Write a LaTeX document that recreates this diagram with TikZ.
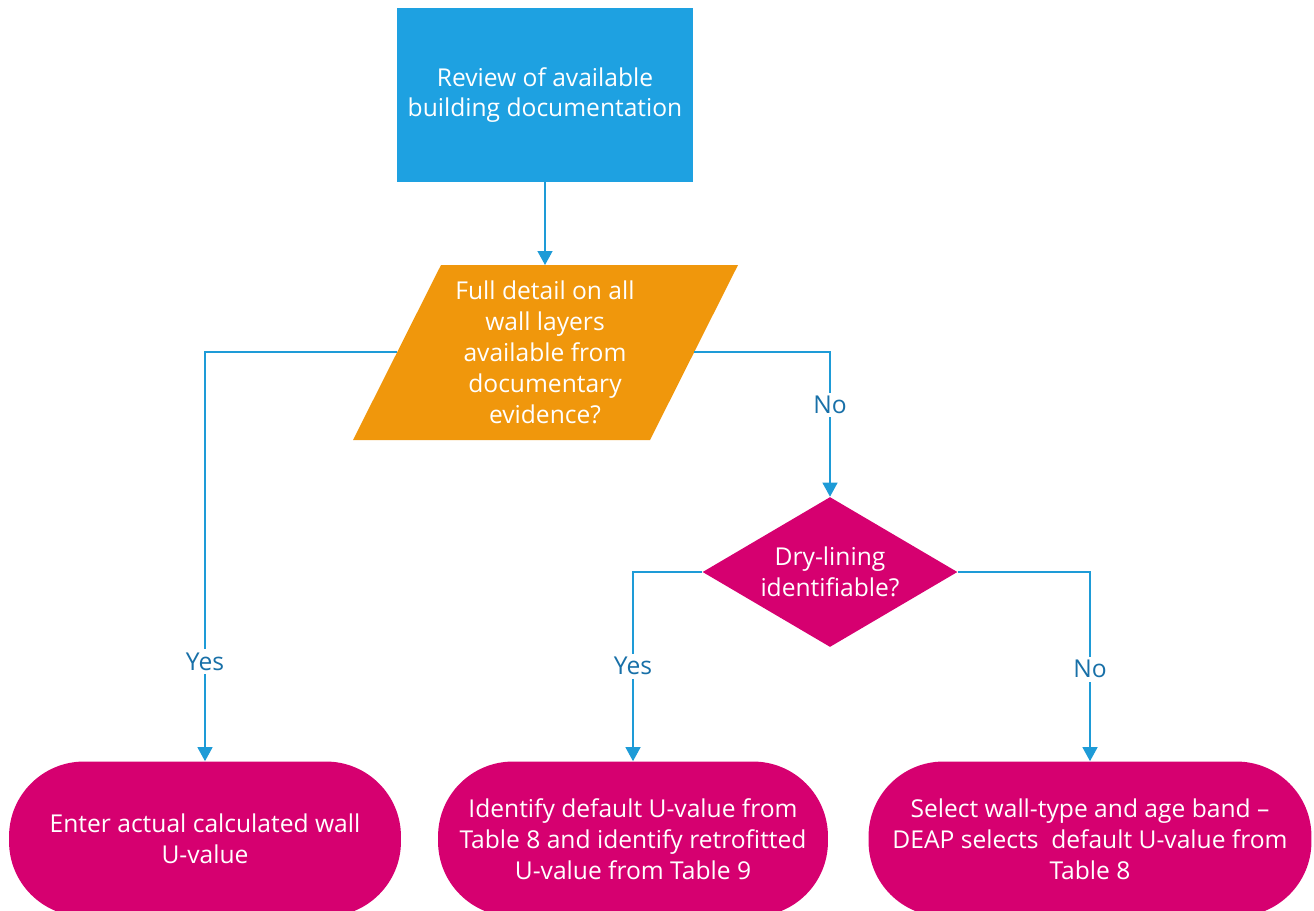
\documentclass[tikz,border=0pt]{standalone}
\usepackage{fontspec}
\setmainfont{Open Sans}
\usetikzlibrary{arrows.meta,shapes.geometric}

\definecolor{boxblue}{RGB}{30,161,225}
\definecolor{askorange}{RGB}{240,151,12}
\definecolor{endpink}{RGB}{214,0,112}
\definecolor{lineblue}{RGB}{30,155,215}
\definecolor{lblblue}{RGB}{24,112,168}

\tikzset{
  boxtext/.style={text=white, align=center, font=\fontsize{14}{17.6}\selectfont},
  startbox/.style={boxtext, fill=boxblue, minimum width=5.92cm, minimum height=3.48cm, inner sep=0pt},
  askbox/.style={boxtext, diamond, fill=endpink, aspect=1.7, minimum width=5.1cm, minimum height=3cm, inner sep=0pt},
  endbox/.style={boxtext, fill=endpink, rounded corners=1.5cm, minimum height=3.1cm, inner sep=0pt},
  flow/.style={draw=lineblue, line width=0.75pt, -{Triangle[width=0.3cm,length=0.28cm]}},
  flowlbl/.style={fill=white, text=lblblue, inner sep=2pt, font=\fontsize{14}{16}\selectfont},
}

\begin{document}
\begin{tikzpicture}[x=0.02cm,y=-0.02cm]
  \useasboundingbox (0,0) rectangle (1314,910);

  % Drawing start box
  \node[startbox] (review) at (545,95) {Review of available\\building documentation};

  % Drawing parallelogram
  \fill[askorange] (441,265) -- (738,265) -- (650,440) -- (353,440) -- cycle;
  \node[boxtext, inner sep=0pt] (detail) at (545,352) {Full detail on all\\wall layers\\available from\\documentary\\evidence?};
  \coordinate (detailW) at (397,352);
  \coordinate (detailE) at (694,352);
  \coordinate (detailN) at (545,265);

  % Drawing decision
  \node[askbox] (dry) at (830,572) {Dry-lining\\identifiable?};

  % Drawing end boxes
  \node[endbox, minimum width=7.84cm] (actual) at (205,839) {Enter actual calculated wall\\U-value};
  \node[endbox, minimum width=7.8cm] (retro) at (633,839) {Identify default U-value from\\Table 8 and identify retrofitted\\U-value from Table 9};
  \node[endbox, minimum width=8.86cm] (deap) at (1090,839) {Select wall-type and age band --\\DEAP selects\ \ default U-value from\\Table 8};

  % Drawing connectors
  \draw[flow] (review) -- (detailN);
  \draw[flow] (detailW) -| node[flowlbl, pos=0.878] (yesA) {Yes} (actual.north);
  \draw[flow] (detailE) -| node[flowlbl, pos=0.683] (noA) {No} (dry.north);
  \draw[flow] (dry.west) -| node[flowlbl, pos=0.749] (yesB) {Yes} (retro.north);
  \draw[flow] (dry.east) -| node[flowlbl, pos=0.757] (noB) {No} (deap.north);
\end{tikzpicture}
\end{document}
